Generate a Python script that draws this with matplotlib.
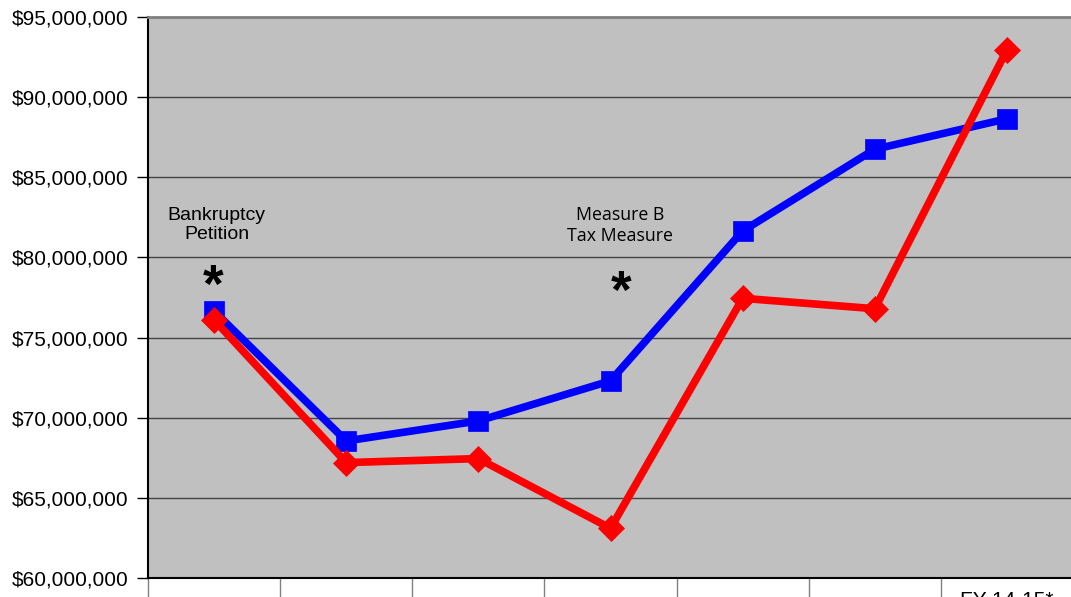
import matplotlib.pyplot as plt
import matplotlib.ticker as ticker

years = ["FY 08-09", "FY 09-10", "FY 10-11", "FY 11-12", "FY 12-13", "FY 13-14", "FY 14-15*"]
blue_vals = [76.65e6, 68.55e6, 69.8e6, 72.3e6, 81.65e6, 86.75e6, 88.65e6]
red_vals = [76.1e6, 67.2e6, 67.45e6, 63.1e6, 77.45e6, 76.8e6, 92.95e6]

W, H = 1071, 597
fig = plt.figure(figsize=(W / 100, H / 100), dpi=100)
ax = fig.add_axes([148 / W, (H - 578) / H, (1073 - 148) / W, (578 - 17) / H])
ax.set_facecolor("#C0C0C0")

x = list(range(len(years)))
ax.plot(x, blue_vals, color="#0000FF", lw=5.5, marker="s", ms=14.5,
        mec="#0000FF", mew=0.5, zorder=3, solid_joinstyle="miter")
ax.plot(x, red_vals, color="#FF0000", lw=5.5, marker="D", ms=13,
        mec="#FF0000", mew=0.5, zorder=4, solid_joinstyle="miter")

ax.set_ylim(60e6, 95e6)
ax.set_xlim(-0.5, 6.5)
ax.yaxis.set_major_locator(ticker.MultipleLocator(5e6))
ax.yaxis.set_major_formatter(ticker.FuncFormatter(lambda v, p: "${:,.0f}".format(v)))
ax.grid(axis="y", color="#444444", lw=1, zorder=1)

ax.set_xticks([i - 0.5 for i in range(len(years) + 1)])
ax.set_xticklabels([])
# only the last category label falls inside the visible canvas
ax.set_xticks(x[-1:], minor=True)
ax.set_xticklabels(years[-1:], minor=True)
ax.tick_params(axis="x", which="major", length=16, width=1, color="#808080")
ax.tick_params(axis="x", which="minor", length=0, pad=9, labelsize=15)
ax.tick_params(axis="y", length=8, width=1, labelsize=15, pad=6)
for lab in ax.get_yticklabels() + ax.get_xticklabels(minor=True):
    lab.set_family("Liberation Sans")

ax.spines["left"].set_color("black")
ax.spines["left"].set_linewidth(1.5)
ax.spines["bottom"].set_color("black")
ax.spines["bottom"].set_linewidth(1.5)
ax.spines["top"].set_color("#808080")
ax.spines["top"].set_linewidth(2)
ax.spines["right"].set_visible(False)

ax.text(0.02, 82.0e6, "Bankruptcy\nPetition", ha="center", va="center",
        fontsize=14, family="Liberation Sans", linespacing=1.15)
ax.text(-0.01, 78.1e6, "*", ha="center", va="center", fontsize=38,
        fontweight="bold", family="Liberation Sans")
ax.text(3.07, 82.0e6, "Measure B\nTax Measure", ha="center", va="center",
        fontsize=12.8, family="Open Sans", linespacing=1.2)
ax.text(3.08, 77.7e6, "*", ha="center", va="center", fontsize=38,
        fontweight="bold", family="Liberation Sans")

fig.savefig("out.png", dpi=100)
